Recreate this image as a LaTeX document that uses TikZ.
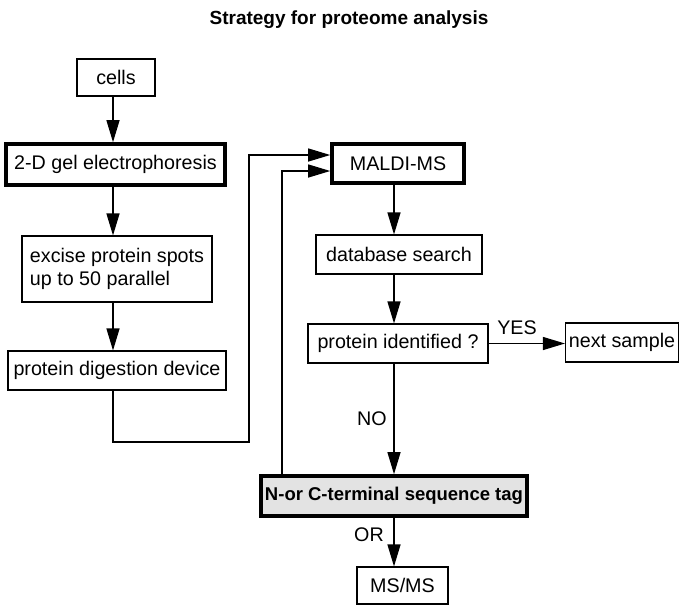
\documentclass[tikz,border=0pt]{standalone}
\usepackage{fontspec}
\setmainfont{Liberation Sans}
\usetikzlibrary{arrows.meta,calc}
\begin{document}
\begin{tikzpicture}[x=1pt,y=-1pt,
  box/.style={draw,line width=1.1pt,inner sep=0pt,font=\fontsize{19.7}{23}\selectfont},
  thickbox/.style={box,line width=3.6pt},
  arr/.style={line width=1.2pt,-{Triangle[length=22pt,width=13pt]}},
  lbl/.style={font=\fontsize{19.7}{23}\selectfont,inner sep=0pt}]
\useasboundingbox (0,0) rectangle (679,605);
\node[font=\bfseries\fontsize{19}{22}\selectfont] (title) at (349,20) {Strategy for proteome analysis};
\node[box,minimum width=78pt,minimum height=37pt] (cells) at (116,77.5) {cells};
\node[thickbox,minimum width=219pt,minimum height=41pt] (gel) at (115.5,164.5) {2-D gel electrophoresis};
\node[box,minimum width=190pt,minimum height=66pt,align=left] (excise) at (117,269) {excise protein spots\\up to 50 parallel};
\node[box,minimum width=218pt,minimum height=39pt] (digest) at (117,370.5) {protein digestion device};
\node[thickbox,minimum width=132pt,minimum height=39pt] (maldi) at (398,163.5) {MALDI-MS};
\node[box,minimum width=166pt,minimum height=39pt] (db) at (399,254.5) {database search};
\node[box,minimum width=180pt,minimum height=39pt] (pid) at (398,343.5) {protein identified ?};
\node[box,minimum width=113pt,minimum height=39pt] (next) at (622,342.5) {next sample};
\node[thickbox,fill=gray!22,minimum width=266pt,minimum height=40pt,font=\bfseries\fontsize{18.5}{21}\selectfont] (nc) at (394,496) {N-or C-terminal sequence tag};
\node[box,minimum width=91pt,minimum height=37pt] (msms) at (402.5,585.5) {MS/MS};
\coordinate (xA) at (113,0);
\coordinate (xC) at (394,0);
\coordinate (xB) at (282,0);
\coordinate (yA) at (0,155);
\coordinate (yB) at (0,171);
\coordinate (c1) at (249,442);
\draw[arr] (cells.south -| xA) -- (gel.north -| xA);
\draw[arr] (gel.south -| xA) -- (excise.north -| xA);
\draw[arr] (excise.south -| xA) -- (digest.north -| xA);
\draw[arr] (digest.south -| xA) |- (c1) |- (maldi.west |- yA);
\draw[arr] (nc.north -| xB) |- (maldi.west |- yB);
\draw[arr] (maldi.south -| xC) -- (db.north -| xC);
\draw[arr] (db.south -| xC) -- (pid.north -| xC);
\draw[arr] (pid.south -| xC) -- (nc.north -| xC);
\draw[arr] (nc.south -| xC) -- (msms.north -| xC);
\draw[arr] (pid.east) -- (next.west |- pid.east);
\node[lbl] (yes) at (517,328) {YES};
\node[lbl] (no) at (372,419) {NO};
\node[lbl] (or) at (369,535) {OR};
\end{tikzpicture}
\end{document}
